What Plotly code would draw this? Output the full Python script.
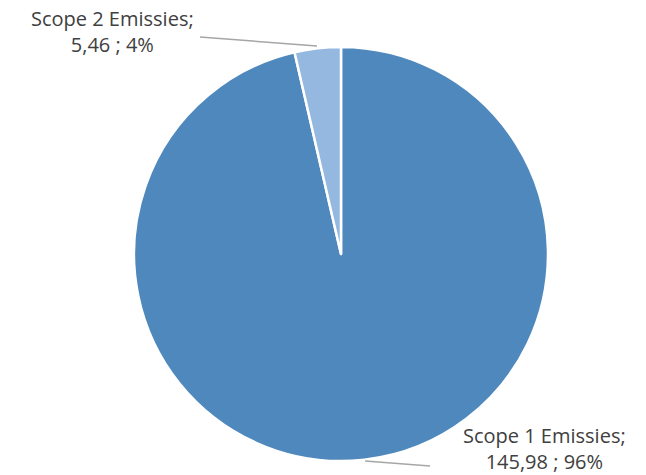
import plotly.graph_objects as go

labels = ["Scope 1 Emissies", "Scope 2 Emissies"]
values = [145.98, 5.46]
colors = ["#4F88BD", "#95B8E0"]

W, H = 646, 475
total = sum(values)

fig = go.Figure(go.Pie(
    labels=labels,
    values=values,
    sort=False,
    direction="clockwise",
    rotation=0,
    marker=dict(colors=colors, line=dict(color="white", width=2.5)),
    textinfo="none",
    hoverinfo="label+value+percent",
    showlegend=False,
    domain=dict(x=[134 / W, 548 / W], y=[(H - 461) / H, (H - 47) / H]),
))

def fmt(v):
    return f"{v:.2f}".replace(".", ",")

label_pos = [(544, 448), (112, 32)]
leader = [((365, 461), (430, 466)), ((200, 37), (317, 46))]

for i, (lab, val) in enumerate(zip(labels, values)):
    pct = round(val / total * 100)
    x, y = label_pos[i]
    fig.add_annotation(
        x=x / W, y=1 - y / H, xref="paper", yref="paper",
        xanchor="center", yanchor="middle",
        text=f"{lab};<br>{fmt(val)} ; {pct}%",
        showarrow=False, align="center",
        font=dict(family="Open Sans, Liberation Sans, sans-serif", size=20, color="#404040"),
    )
    (x0, y0), (x1, y1) = leader[i]
    fig.add_shape(type="line", xref="paper", yref="paper",
                  x0=x0 / W, y0=1 - y0 / H, x1=x1 / W, y1=1 - y1 / H,
                  line=dict(color="#A6A6A6", width=1.5))

fig.update_layout(
    width=W, height=H,
    margin=dict(l=0, r=0, t=0, b=0),
    paper_bgcolor="white", plot_bgcolor="white",
)

fig.write_html("out.html", config={"displayModeBar": False},
               post_script="document.body.style.margin='0';")
